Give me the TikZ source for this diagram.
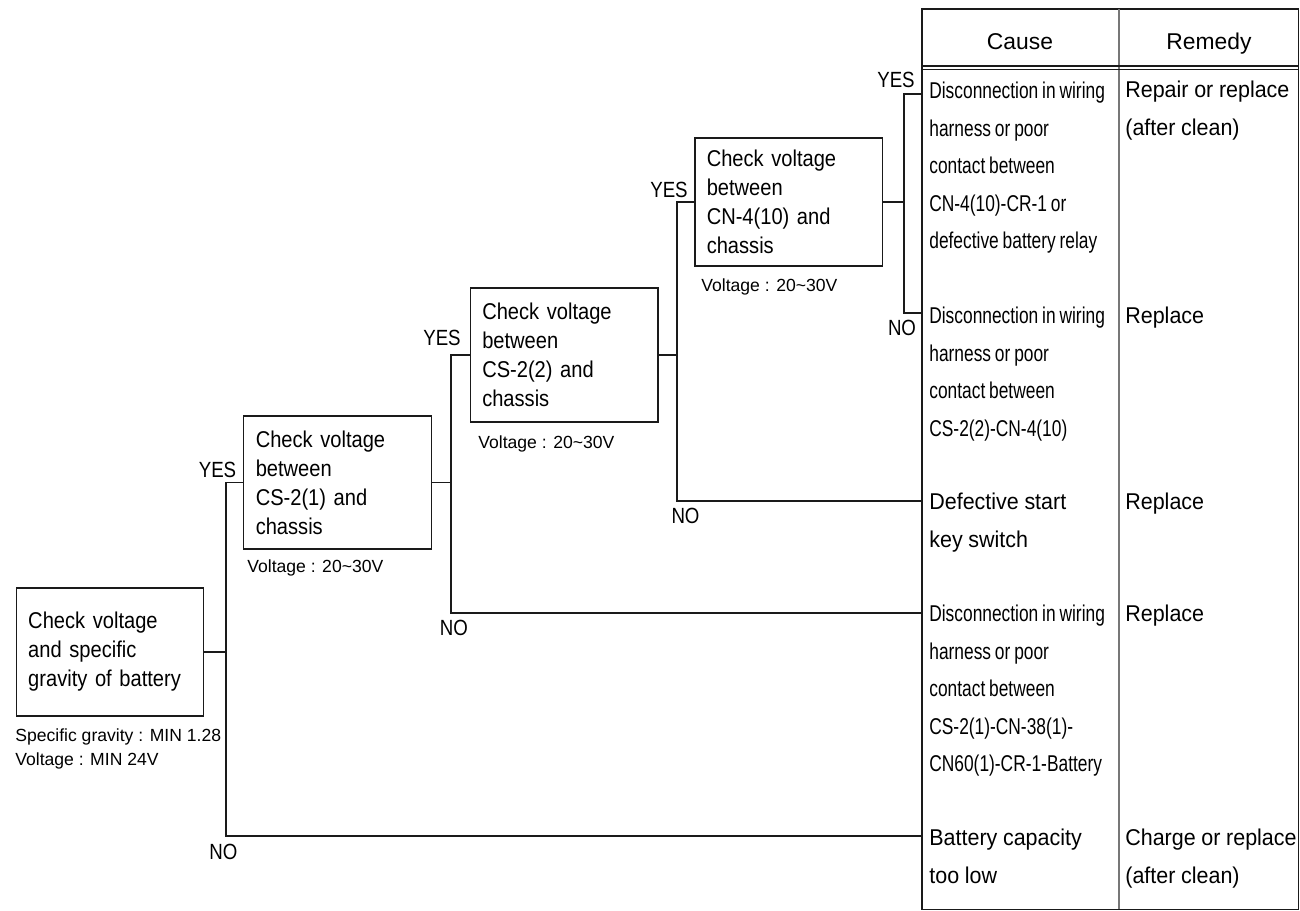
\documentclass[tikz,border=0pt]{standalone}
\usepackage{fontspec}
\setmainfont{Liberation Sans}
\newfontfamily\narrowfont[FakeStretch=0.76, WordSpace=0.8]{Liberation Sans}
\newfontfamily\boxfont[FakeStretch=0.88, WordSpace=0.85]{Liberation Sans}
\newfontfamily\tagfont[FakeStretch=0.85]{Liberation Sans}
\newfontfamily\cellfont[FakeStretch=0.94, WordSpace=0.95]{Liberation Sans}
\usetikzlibrary{positioning, calc}
\definecolor{tsLine}{HTML}{1A1A1A}
\definecolor{tsMid}{HTML}{777777}
\tikzset{
  checkbox/.style={
    draw=tsLine, line width=0.85pt, minimum width=37.5mm, text width=32.7mm,
    inner xsep=2.4mm, inner ysep=0pt, align=left,
    font=\boxfont\fontsize{13}{16.5}\selectfont
  },
  spec/.style={anchor=north west, inner sep=0pt, align=left,
    font=\fontsize{10}{13.7}\selectfont},
  yesno/.style={inner sep=0pt, font=\tagfont\fontsize{12.5}{14}\selectfont},
  cell/.style={anchor=north west, inner sep=0pt, align=left,
    font=\cellfont\fontsize{13}{21.35}\selectfont},
  causecell/.style={cell, font=\narrowfont\fontsize{13}{21.35}\selectfont},
  head/.style={anchor=base, inner sep=0pt, font=\fontsize{13}{15}\selectfont},
  wire/.style={line width=0.6pt, tsLine}
}
\begin{document}
\begin{tikzpicture}[x=0.2mm, y=-0.2mm]
  \useasboundingbox (0,0) rectangle (1300,911);

  \node[checkbox, minimum height=25.6mm] (b1) at (110,652) {Check voltage\\and specific\\gravity of battery};
  \node[checkbox, minimum height=26.6mm] (b2) at (337.5,482.5) {Check voltage\\between\\CS-2(1) and\\chassis};
  \node[checkbox, minimum height=26.8mm] (b3) at (564,355) {Check voltage\\between\\CS-2(2) and\\chassis};
  \node[checkbox, minimum height=25.6mm] (b4) at (788.5,202) {Check voltage\\between\\CN-4(10) and\\chassis};

  \node[spec] (v1) at (15,728) {Specific gravity : MIN 1.28\\Voltage : MIN 24V};
  \node[spec] (v2) at (247,559) {Voltage : 20\textasciitilde30V};
  \node[spec] (v3) at (478,435) {Voltage : 20\textasciitilde30V};
  \node[spec] (v4) at (701,278) {Voltage : 20\textasciitilde30V};

  \draw[line width=1.1pt, tsLine] (922,9) rectangle (1298.5,909.5);
  \draw[line width=0.8pt, tsMid] (1119,9) -- (1119,909.5);
  \draw[line width=0.6pt, tsLine] (922,66) -- (1298.5,66);
  \draw[line width=0.6pt, tsLine] (922,69.5) -- (1298.5,69.5);
  \node[head] (hc) at (1020,50) {Cause};
  \node[head] (hr) at (1209,50) {Remedy};

  \coordinate (t1) at (922,94);
  \coordinate (t2) at (922,313);
  \coordinate (t3) at (922,501);
  \coordinate (t4) at (922,613);
  \coordinate (t5) at (922,836);
  \coordinate (k1) at (226,0);
  \coordinate (k2) at (451,0);
  \coordinate (k3) at (677,0);
  \coordinate (k4) at (904,0);

  \draw[wire] (b1.east) -- (b1.east -| k1);
  \draw[wire] (b2.west) -| (k1 |- t5) -- (t5);
  \draw[wire] (b2.east) -- (b2.east -| k2);
  \draw[wire] (b3.west) -| (k2 |- t4) -- (t4);
  \draw[wire] (b3.east) -- (b3.east -| k3);
  \draw[wire] (b4.west) -| (k3 |- t3) -- (t3);
  \draw[wire] (b4.east) -- (b4.east -| k4);
  \draw[wire] (t1) -| (k4 |- t2) -- (t2);

  \node[yesno] (y1) at (217.5,470) {YES};
  \node[yesno] (y2) at (442,338) {YES};
  \node[yesno] (y3) at (669,190) {YES};
  \node[yesno] (y4) at (896,80) {YES};
  \node[yesno] (n1) at (223.5,852) {NO};
  \node[yesno] (n2) at (454,628) {NO};
  \node[yesno] (n3) at (685.5,516) {NO};
  \node[yesno] (n4) at (902,328) {NO};

  \node[causecell] (c1) at (929,82) {Disconnection in wiring\\harness or poor\\contact between\\CN-4(10)-CR-1 or\\defective battery relay};
  \node[causecell] (c2) at (929,307) {Disconnection in wiring\\harness or poor\\contact between\\CS-2(2)-CN-4(10)};
  \node[cell] (c3) at (929,493) {Defective start\\key switch};
  \node[causecell] (c4) at (929,605) {Disconnection in wiring\\harness or poor\\contact between\\CS-2(1)-CN-38(1)-\\CN60(1)-CR-1-Battery};
  \node[cell] (c5) at (929,829) {Battery capacity\\too low};

  \node[cell] (r1) at (1125,81) {Repair or replace\\(after clean)};
  \node[cell] (r2) at (1125,307) {Replace};
  \node[cell] (r3) at (1125,493) {Replace};
  \node[cell] (r4) at (1125,605) {Replace};
  \node[cell] (r5) at (1125,829) {Charge or replace\\(after clean)};
\end{tikzpicture}
\end{document}
